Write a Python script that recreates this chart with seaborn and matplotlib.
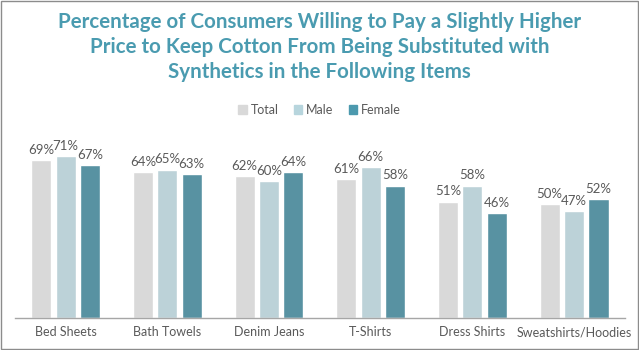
import pandas as pd
import matplotlib.pyplot as plt
import seaborn as sns
from matplotlib.patches import Rectangle

# chart data
items = ['Bed Sheets', 'Bath Towels', 'Denim Jeans', 'T-Shirts', 'Dress Shirts', 'Sweatshirts/Hoodies']
groups = ['Total', 'Male', 'Female']
total = [69, 64, 62, 61, 51, 50]
male = [71, 65, 60, 66, 58, 47]
female = [67, 63, 64, 58, 46, 52]

colors = ['#D9D9D9', '#B7D5DD', '#4C99AE']
title_color = '#4A9BB0'
text_color = '#595959'

df = pd.DataFrame({
    'item': items * 3,
    'group': [g for g in groups for _ in items],
    'value': total + male + female,
})

sns.set_theme(style='white')
plt.rcParams['font.family'] = ['Lato', 'DejaVu Sans']

fig = plt.figure(figsize=(6.39, 3.5), dpi=100)
ax = fig.add_axes([0.023, 0.091, 0.955, 0.555])

sns.barplot(data=df, x='item', y='value', hue='group', order=items, hue_order=groups,
            palette=colors, width=0.72, gap=0.18, ax=ax, legend=False)

for cont in ax.containers:
    ax.bar_label(cont, labels=[f'{int(v)}%' for v in cont.datavalues], padding=3,
                 fontsize=9.5, color=text_color)

ax.set_ylim(0, 85)
ax.set_xlim(-0.5, len(items) - 0.5)
ax.set_yticks([])
ax.set_xlabel('')
ax.set_ylabel('')
ax.tick_params(axis='x', length=0, labelsize=9, labelcolor=text_color, pad=6)
for s in ['top', 'right', 'left']:
    ax.spines[s].set_visible(False)
ax.spines['bottom'].set_color('#A6A6A6')
ax.spines['bottom'].set_linewidth(1)

fig.text(0.5, 0.965, 'Percentage of Consumers Willing to Pay a Slightly Higher\n'
         'Price to Keep Cotton From Being Substituted with\n'
         'Synthetics in the Following Items',
         ha='center', va='top', fontsize=14.8, fontweight='bold', color=title_color,
         linespacing=1.3)

handles = [Rectangle((0, 0), 1, 1, color=c) for c in colors]
fig.legend(handles, groups, loc='center', bbox_to_anchor=(0.5, 0.685), ncol=3, frameon=False,
           fontsize=9, labelcolor=text_color, handlelength=0.7, handleheight=0.7,
           handletextpad=0.3, columnspacing=1.2)

fig.patches.append(Rectangle((0.002, 0.003), 0.996, 0.994, transform=fig.transFigure,
                             fill=False, edgecolor='#8C8C8C', linewidth=1))

fig.savefig('out.png', dpi=100)
